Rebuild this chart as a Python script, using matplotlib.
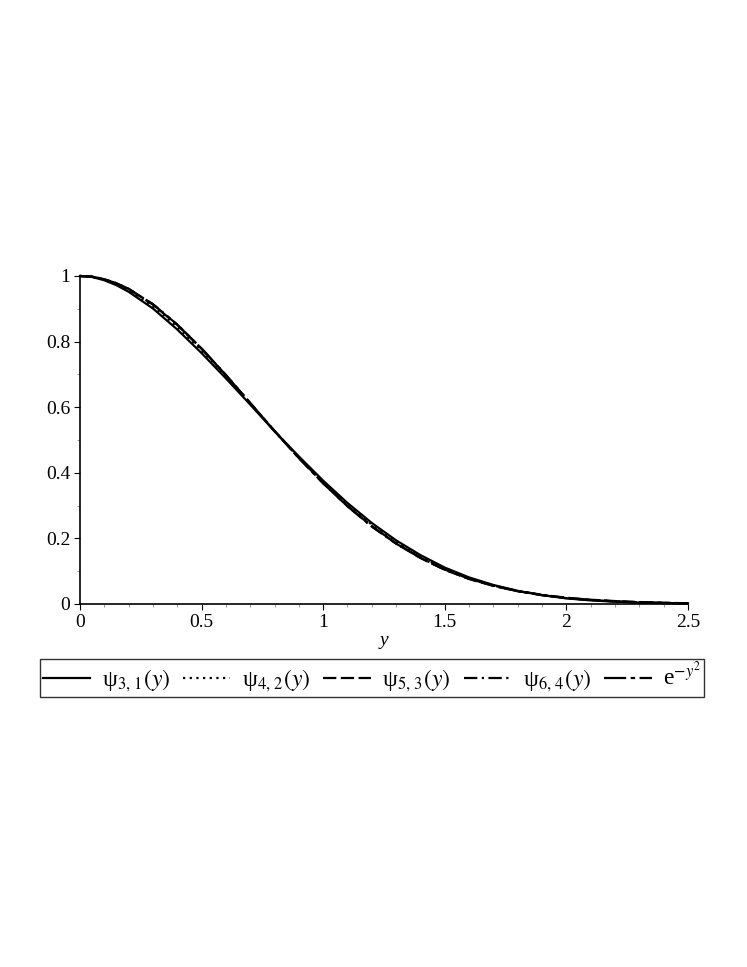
#!/bin/python3

import numpy as np
import matplotlib.pyplot as plt

Y_VALUES = [0.0, 0.05, 0.1, 0.15, 0.2, 0.3, 0.4, 0.5, 0.6, 0.7, 0.8, 0.9, 1.0,
            1.1, 1.2, 1.3, 1.4, 1.5, 1.6, 1.7, 1.8, 1.9, 2.0, 2.1, 2.2, 2.3,
            2.4, 2.5]

psi_3_1 = [1.0, 0.997, 0.987, 0.972, 0.952, 0.901, 0.837, 0.765, 0.688, 0.608,
           0.527, 0.450, 0.376, 0.308, 0.247, 0.194, 0.149, 0.111, 0.081, 0.058,
           0.040, 0.027, 0.017, 0.011, 0.007, 0.004, 0.003, 0.002]
psi_4_2 = [1.0, 0.997, 0.989, 0.975, 0.957, 0.908, 0.845, 0.773, 0.694, 0.611,
           0.527, 0.447, 0.372, 0.303, 0.242, 0.189, 0.144, 0.107, 0.078, 0.056,
           0.039, 0.027, 0.018, 0.012, 0.008, 0.005, 0.003, 0.002]
psi_5_3 = [1.0, 0.998, 0.990, 0.977, 0.960, 0.913, 0.851, 0.778, 0.698, 0.613,
           0.528, 0.446, 0.369, 0.299, 0.237, 0.184, 0.140, 0.104, 0.076, 0.055,
           0.039, 0.027, 0.019, 0.013, 0.009, 0.006, 0.004, 0.002]
psi_6_4 = [1.0, 0.998, 0.990, 0.978, 0.961, 0.914, 0.852, 0.779, 0.698, 0.612,
           0.527, 0.445, 0.368, 0.298, 0.236, 0.184, 0.141, 0.105, 0.077, 0.056,
           0.040, 0.028, 0.019, 0.012, 0.008, 0.005, 0.003, 0.002]
gauss = [1.0, 0.998, 0.990, 0.978, 0.961, 0.914, 0.852, 0.779, 0.698, 0.613,
         0.527, 0.445, 0.368, 0.298, 0.237, 0.185, 0.141, 0.105, 0.077, 0.056,
         0.039, 0.027, 0.018, 0.012, 0.008, 0.005, 0.003, 0.002]

LABELS = ["ψ$_{3,\\,1}(y)$", "ψ$_{4,\\,2}(y)$", "ψ$_{5,\\,3}(y)$",
          "ψ$_{6,\\,4}(y)$", "e$^{-y^2}$"]
X_TICKS = [0, 0.5, 1, 1.5, 2, 2.5]
X_TICK_LABELS = ["0", "0.5", "1", "1.5", "2", "2.5"]
Y_TICKS = [0, 0.2, 0.4, 0.6, 0.8, 1]
Y_TICK_LABELS = ["0", "0.2", "0.4", "0.6", "0.8", "1"]


def main():
    plt.rcParams['font.family'] = ['Liberation Serif', 'DejaVu Serif']
    plt.rcParams['mathtext.fontset'] = 'stix'

    fig = plt.figure(figsize=(7.47, 9.67), dpi=100)
    ax = fig.add_axes([0.107, 0.3754, 0.814, 0.3392])

    styles = ["-", (0, (1, 2)), (0, (6, 2)), (0, (6, 2, 1, 2)), (0, (10, 2, 2, 2))]
    series = [psi_3_1, psi_4_2, psi_5_3, psi_6_4, gauss]
    for values, style, label in zip(series, styles, LABELS):
        ax.plot(Y_VALUES, values, color="black", linestyle=style, linewidth=1.6,
                label=label, clip_on=False)

    ax.set_xlim(0, 2.5)
    ax.set_ylim(0, 1)
    ax.set_xticks(X_TICKS)
    ax.set_xticklabels(X_TICK_LABELS)
    ax.set_yticks(Y_TICKS)
    ax.set_yticklabels(Y_TICK_LABELS)
    ax.set_xticks(np.arange(0, 2.51, 0.1), minor=True)
    ax.set_yticks(np.arange(0, 1.01, 0.1), minor=True)
    ax.tick_params(labelsize=14, length=4, width=0.8, direction="out", pad=3)
    ax.tick_params(which="minor", length=2.5, width=0.6, color="#888888")
    for side in ["top", "right"]:
        ax.spines[side].set_visible(False)
    for side in ["left", "bottom"]:
        ax.spines[side].set_linewidth(1.2)
    ax.set_xlabel("y", fontsize=14, style="italic", labelpad=1)

    leg = fig.legend(loc="center", bbox_to_anchor=(0.498, 0.299), ncol=5,
                     fontsize=17, frameon=True, fancybox=False, edgecolor="black",
                     handlelength=2.0, handletextpad=0.5, columnspacing=0.55,
                     borderpad=0.12, borderaxespad=0)
    leg.get_frame().set_linewidth(1.0)

    plt.savefig("out.png", dpi=100)


if __name__ == "__main__":
    main()
